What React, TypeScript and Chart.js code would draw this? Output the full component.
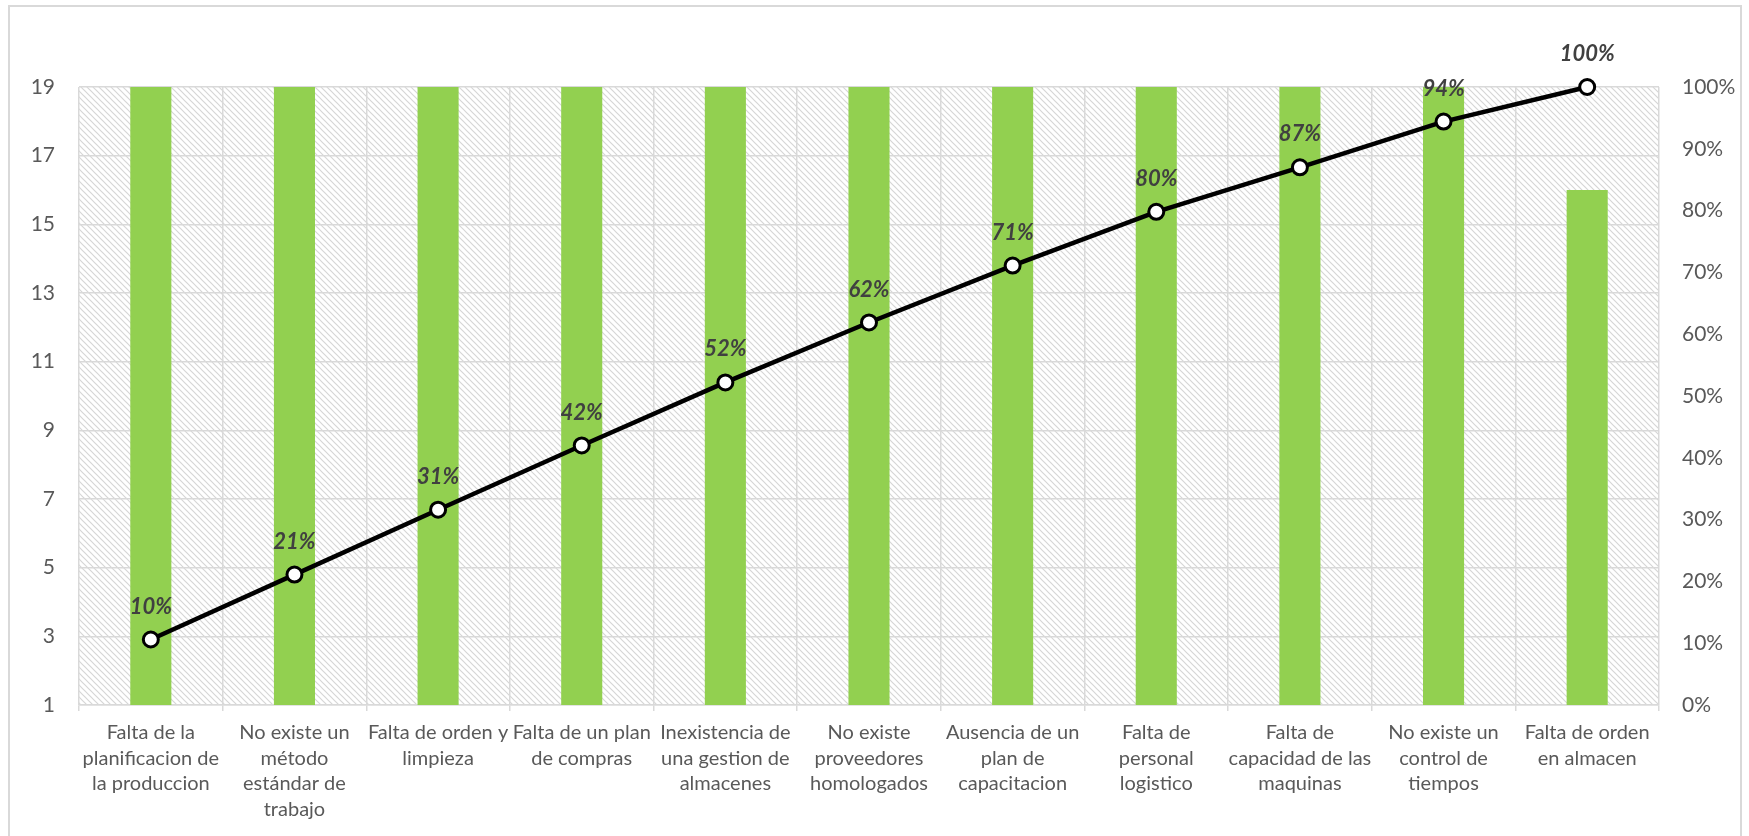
import React, { useEffect, useRef } from 'react';
import { Chart, registerables } from 'chart.js';

Chart.register(...registerables);

const categories: string[][] = [
  ['Falta de la', 'planificacion de', 'la produccion'],
  ['No existe un', 'método', 'estándar de', 'trabajo'],
  ['Falta de orden y', 'limpieza'],
  ['Falta de un plan', 'de compras'],
  ['Inexistencia de', 'una gestion de', 'almacenes'],
  ['No existe', 'proveedores', 'homologados'],
  ['Ausencia de un', 'plan de', 'capacitacion'],
  ['Falta de', 'personal', 'logistico'],
  ['Falta de', 'capacidad de las', 'maquinas'],
  ['No existe un', 'control de', 'tiempos'],
  ['Falta de orden', 'en almacen'],
];

const frequencies = [30, 30, 30, 30, 29, 28, 26, 25, 21, 21, 16];
const cumulativePct = [10.6, 21.1, 31.6, 42.0, 52.2, 61.9, 71.1, 79.8, 87.0, 94.4, 100];
const cumulativeLabels = ['10%', '21%', '31%', '42%', '52%', '62%', '71%', '80%', '87%', '94%', '100%'];
const leftTicks = [1, 3, 5, 7, 9, 11, 13, 15, 17, 19];
const rightTicks = [0, 10, 20, 30, 40, 50, 60, 70, 80, 90, 100];

const FONT = 'Lato, "Open Sans", sans-serif';
const GRID = '#d9d9d9';

function makePattern(ctx: CanvasRenderingContext2D): CanvasPattern | string {
  const size = 6;
  const c = document.createElement('canvas');
  c.width = size;
  c.height = size;
  const p = c.getContext('2d');
  if (!p) return '#f2f2f2';
  p.fillStyle = '#ffffff';
  p.fillRect(0, 0, size, size);
  p.strokeStyle = '#d6d6d6';
  p.lineWidth = 1.2;
  p.beginPath();
  p.moveTo(-1, -1);
  p.lineTo(size + 1, size + 1);
  p.moveTo(-1, size - 1);
  p.lineTo(1, size + 1);
  p.moveTo(size - 1, -1);
  p.lineTo(size + 1, 1);
  p.stroke();
  return ctx.createPattern(c, 'repeat') || '#f2f2f2';
}

const backgroundPlugin = {
  id: 'bgPlugin',
  beforeDraw(chart: any) {
    const { ctx, chartArea, width, height } = chart;
    ctx.save();
    ctx.fillStyle = '#ffffff';
    ctx.fillRect(0, 0, width, height);
    ctx.strokeStyle = GRID;
    ctx.lineWidth = 2;
    ctx.strokeRect(9, 6, 1732, 840);
    ctx.fillStyle = makePattern(ctx);
    ctx.fillRect(chartArea.left, chartArea.top, chartArea.right - chartArea.left, chartArea.bottom - chartArea.top);
    ctx.restore();
  },
};

const labelPlugin = {
  id: 'cumLabels',
  afterDatasetsDraw(chart: any) {
    const meta = chart.getDatasetMeta(1);
    const { ctx } = chart;
    ctx.save();
    ctx.font = `italic bold 22px ${FONT}`;
    ctx.fillStyle = '#404040';
    ctx.textAlign = 'center';
    ctx.textBaseline = 'middle';
    meta.data.forEach((pt: any, i: number) => {
      ctx.fillText(cumulativeLabels[i], pt.x, pt.y - 33);
    });
    ctx.restore();
  },
};

export default function App() {
  const ref = useRef<HTMLCanvasElement>(null);

  useEffect(() => {
    document.body.style.margin = '0';
    const canvas = ref.current;
    if (!canvas) return;
    const chart = new Chart(canvas, {
      type: 'bar',
      data: {
        labels: categories,
        datasets: [
          {
            type: 'bar',
            label: 'Frecuencia',
            data: frequencies,
            backgroundColor: '#92d050',
            borderWidth: 0,
            barPercentage: 0.286,
            categoryPercentage: 1,
            yAxisID: 'y',
            order: 2,
          },
          {
            type: 'line',
            label: '% Acumulado',
            data: cumulativePct,
            borderColor: '#000000',
            borderWidth: 4.5,
            pointRadius: 7.5,
            pointBorderWidth: 3,
            pointBackgroundColor: '#ffffff',
            pointBorderColor: '#000000',
            tension: 0,
            yAxisID: 'y1',
            clip: false as any,
            order: 1,
          } as any,
        ],
      },
      options: {
        responsive: false,
        animation: false,
        devicePixelRatio: 1,
        layout: { padding: { top: 87, left: 0, right: 0, bottom: 0 } },
        plugins: {
          legend: { display: false },
          tooltip: { enabled: false },
          title: { display: false },
        },
        scales: {
          x: {
            offset: true,
            grid: { color: GRID, lineWidth: 1.5, offset: true, tickLength: 6, drawTicks: true },
            border: { color: GRID, width: 1.5 },
            ticks: {
              color: '#595959',
              font: { family: FONT, size: 20, lineHeight: '25.5px' as any },
              padding: 9,
              maxRotation: 0,
              minRotation: 0,
              autoSkip: false,
            },
            afterFit(scale: any) {
              scale.height = 131;
            },
          },
          y: {
            position: 'left',
            min: 1,
            max: 19,
            afterBuildTicks(scale: any) {
              scale.ticks = leftTicks.map((v) => ({ value: v }));
            },
            grid: { color: GRID, lineWidth: 1.5, drawTicks: false },
            border: { display: false },
            ticks: {
              color: '#595959',
              font: { family: FONT, size: 21 },
              padding: 24,
            },
            afterFit(scale: any) {
              scale.width = 79;
            },
          },
          y1: {
            position: 'right',
            min: 0,
            max: 100,
            afterBuildTicks(scale: any) {
              scale.ticks = rightTicks.map((v) => ({ value: v }));
            },
            grid: { display: false, drawTicks: false },
            border: { display: false },
            ticks: {
              color: '#595959',
              font: { family: FONT, size: 21 },
              padding: 23,
              callback: (v: any) => `${v}%`,
            },
            afterFit(scale: any) {
              scale.width = 90;
            },
          },
        },
      },
      plugins: [backgroundPlugin, labelPlugin],
    });
    return () => chart.destroy();
  }, []);

  return (
    <div style={{ position: 'fixed', left: 0, top: 0, width: 1749, height: 836 }}>
      <canvas ref={ref} width={1749} height={836} style={{ display: 'block', width: 1749, height: 836 }} />
    </div>
  );
}
